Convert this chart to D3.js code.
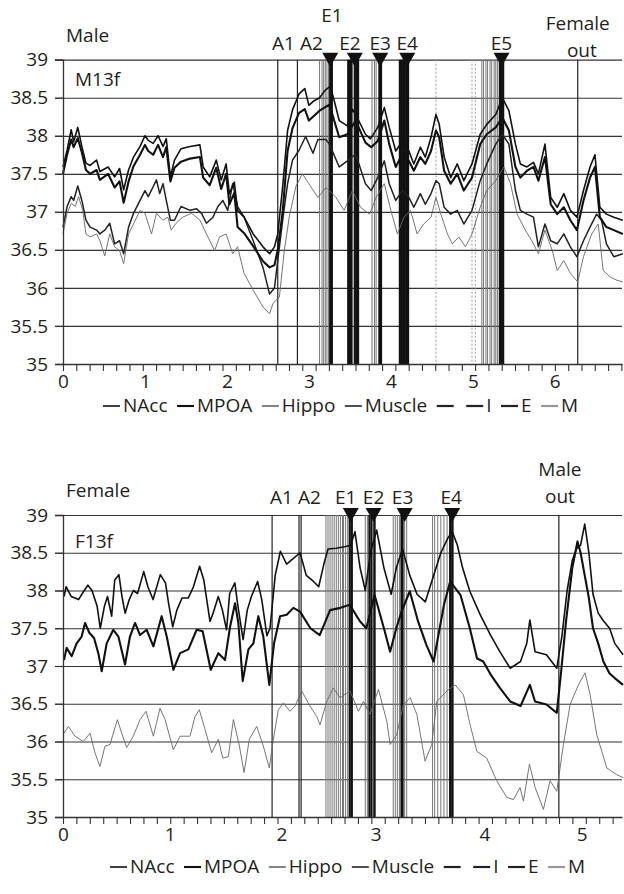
<!DOCTYPE html>
<html>
  <head>
    <meta charset="utf-8">
    <script src="https://cdn.jsdelivr.net/npm/d3@7"></script>
    <style>
      body { margin: 0; background: #fff; }
      svg text { font-family: "Open Sans", sans-serif; font-size: 19px; fill: #231f20; }
    </style>
  </head>
  <body>
    <svg id="chart" width="624" height="894"></svg>
  </body>
  <script type="text/javascript">
    // ---- male panel (M13f) ----
    var topNAcc = [[0,37.59],[0.05,37.81],[0.10,38.08],[0.13,37.92],[0.18,38.11],[0.23,37.86],[0.28,37.64],[0.33,37.61],[0.41,37.68],[0.45,37.53],[0.55,37.59],[0.63,37.46],[0.69,37.57],[0.74,37.29],[0.80,37.55],[0.86,37.72],[0.94,37.86],[1.00,38.0],[1.04,37.94],[1.10,37.9],[1.16,38.0],[1.22,37.86],[1.26,37.96],[1.31,37.46],[1.36,37.68],[1.44,37.83],[1.55,37.86],[1.67,37.88],[1.71,37.59],[1.79,37.46],[1.87,37.68],[1.93,37.42],[1.99,37.63],[2.03,37.24],[2.09,37.39],[2.13,37.02],[2.21,36.93],[2.32,36.71],[2.44,36.54],[2.52,36.45],[2.58,36.54],[2.62,36.71],[2.68,37.33],[2.74,38.07],[2.80,38.34],[2.88,38.55],[2.95,38.62],[3.0,38.4],[3.05,38.45],[3.13,38.5],[3.2,38.6],[3.26,38.65],[3.3,38.5],[3.37,38.2],[3.47,38.13],[3.53,38.35],[3.57,38.28],[3.69,38.02],[3.75,37.96],[3.84,38.11],[3.92,38.37],[3.98,38.11],[4.06,37.8],[4.14,37.93],[4.22,37.8],[4.28,37.63],[4.36,37.85],[4.42,37.72],[4.49,37.98],[4.55,38.28],[4.59,38.15],[4.65,37.72],[4.73,37.45],[4.81,37.63],[4.89,37.41],[4.99,37.63],[5.09,38.02],[5.17,38.15],[5.28,38.28],[5.36,38.5],[5.44,38.33],[5.52,37.89],[5.58,37.63],[5.66,37.59],[5.74,37.65],[5.80,37.5],[5.88,37.89],[5.95,37.19],[6.03,37.06],[6.11,37.24],[6.19,37.02],[6.27,36.93],[6.35,37.28],[6.43,37.59],[6.49,37.75],[6.55,37.06],[6.63,36.97],[6.72,36.93],[6.83,36.89]];
    var topMPOA = [[0,37.5],[0.05,37.75],[0.10,37.95],[0.13,37.85],[0.18,37.97],[0.23,37.78],[0.28,37.55],[0.33,37.5],[0.41,37.55],[0.45,37.42],[0.55,37.5],[0.63,37.32],[0.69,37.4],[0.74,37.12],[0.80,37.4],[0.86,37.6],[0.94,37.75],[1.00,37.88],[1.04,37.8],[1.10,37.75],[1.16,37.88],[1.22,37.72],[1.26,37.85],[1.31,37.4],[1.36,37.58],[1.44,37.66],[1.55,37.7],[1.67,37.72],[1.71,37.45],[1.79,37.35],[1.87,37.58],[1.93,37.3],[1.99,37.5],[2.03,37.1],[2.09,37.25],[2.13,36.8],[2.21,36.72],[2.32,36.55],[2.44,36.35],[2.52,36.27],[2.58,36.3],[2.62,36.5],[2.68,37.0],[2.74,37.8],[2.80,38.1],[2.88,38.3],[2.95,38.35],[3.0,38.2],[3.13,38.33],[3.25,38.41],[3.37,37.98],[3.47,38.02],[3.57,38.2],[3.69,37.91],[3.76,37.85],[3.84,37.93],[3.92,38.2],[3.98,37.89],[4.06,37.59],[4.14,37.76],[4.22,37.67],[4.28,37.54],[4.36,37.72],[4.42,37.63],[4.49,37.8],[4.55,38.07],[4.59,37.98],[4.65,37.54],[4.73,37.37],[4.81,37.5],[4.89,37.28],[4.99,37.45],[5.09,37.89],[5.17,38.02],[5.28,38.11],[5.36,38.24],[5.44,38.07],[5.52,37.59],[5.58,37.45],[5.66,37.54],[5.74,37.59],[5.80,37.41],[5.88,37.72],[5.95,37.1],[6.03,36.97],[6.11,37.06],[6.19,36.89],[6.27,36.76],[6.35,37.15],[6.43,37.45],[6.49,37.59],[6.55,36.93],[6.63,36.8],[6.72,36.76],[6.83,36.71]];
    var topMuscle = [[0,36.8],[0.05,37.07],[0.10,37.2],[0.13,37.15],[0.18,37.34],[0.23,37.15],[0.28,36.89],[0.33,36.8],[0.41,36.76],[0.45,36.71],[0.51,36.76],[0.57,36.85],[0.63,36.58],[0.69,36.62],[0.74,36.45],[0.80,36.8],[0.86,36.98],[0.94,37.15],[1.00,37.28],[1.04,37.2],[1.10,37.33],[1.14,37.42],[1.18,37.24],[1.22,37.37],[1.26,37.15],[1.31,36.89],[1.36,36.89],[1.44,37.07],[1.55,37.02],[1.63,37.04],[1.69,36.98],[1.75,36.85],[1.83,36.93],[1.89,37.07],[1.95,37.15],[2.01,37.02],[2.07,37.37],[2.13,37.07],[2.21,36.93],[2.32,36.62],[2.44,36.27],[2.52,35.92],[2.58,36.0],[2.62,36.36],[2.68,36.89],[2.74,37.37],[2.80,37.68],[2.88,37.81],[2.96,37.99],[3.05,37.77],[3.11,37.95],[3.21,37.95],[3.25,37.89],[3.37,37.59],[3.47,37.67],[3.57,37.76],[3.69,37.37],[3.76,37.28],[3.84,37.45],[3.92,37.67],[3.98,37.37],[4.06,37.15],[4.14,37.28],[4.22,37.19],[4.28,37.06],[4.36,37.24],[4.42,37.1],[4.49,37.24],[4.55,37.41],[4.59,37.37],[4.65,37.06],[4.73,36.97],[4.81,37.02],[4.89,36.84],[4.99,37.02],[5.09,37.41],[5.17,37.63],[5.28,37.89],[5.36,38.02],[5.44,37.89],[5.52,37.28],[5.58,37.02],[5.66,36.97],[5.74,36.93],[5.80,36.54],[5.88,36.84],[5.95,36.62],[6.03,36.58],[6.11,36.71],[6.19,36.54],[6.27,36.41],[6.35,36.62],[6.43,36.8],[6.51,36.97],[6.57,36.89],[6.63,36.58],[6.72,36.41],[6.83,36.45]];
    var topHippo = [[0,36.71],[0.05,36.98],[0.10,37.11],[0.15,37.07],[0.19,37.2],[0.24,37.02],[0.28,36.71],[0.33,36.67],[0.41,36.71],[0.45,36.62],[0.51,36.42],[0.57,36.71],[0.63,36.54],[0.69,36.49],[0.74,36.32],[0.80,36.71],[0.86,36.84],[0.94,37.02],[1.00,36.98],[1.08,36.71],[1.14,36.98],[1.22,36.89],[1.28,36.93],[1.32,36.76],[1.38,36.85],[1.46,36.93],[1.57,36.98],[1.67,36.89],[1.75,36.71],[1.85,36.49],[1.91,36.67],[1.99,36.71],[2.07,36.45],[2.13,36.54],[2.21,36.19],[2.32,35.97],[2.44,35.75],[2.52,35.66],[2.56,35.79],[2.60,35.84],[2.64,35.88],[2.70,36.49],[2.76,36.93],[2.84,37.33],[2.92,37.5],[3.0,37.37],[3.11,37.19],[3.21,37.32],[3.33,37.19],[3.43,37.02],[3.53,37.28],[3.63,37.06],[3.74,36.97],[3.82,37.19],[3.92,37.37],[4.0,37.02],[4.08,36.71],[4.16,36.93],[4.24,37.02],[4.32,36.71],[4.40,36.84],[4.49,36.93],[4.55,37.19],[4.61,36.97],[4.69,36.71],[4.75,36.58],[4.83,36.67],[4.91,36.54],[4.99,36.71],[5.09,37.06],[5.17,37.28],[5.28,37.41],[5.38,37.59],[5.46,37.37],[5.54,36.97],[5.64,36.76],[5.72,36.62],[5.80,36.45],[5.88,36.76],[5.97,36.49],[6.03,36.23],[6.11,36.36],[6.19,36.19],[6.28,36.08],[6.35,36.41],[6.45,36.71],[6.53,36.84],[6.59,36.23],[6.68,36.14],[6.76,36.1],[6.83,36.08]];

    // behaviour marks, time of each vertical line
    var topA = [2.62, 2.86, 6.28];
    var topI = [3.13, 3.16, 3.18, 3.20, 3.22, 3.24, 3.49, 3.56, 3.77, 3.80, 3.82, 5.11, 5.13, 5.16, 5.18, 5.21, 5.23, 5.26, 5.28, 5.30];
    var topE = [3.26, 3.28, 3.48, 3.50, 3.52, 3.56, 3.58, 3.60, 3.86, 3.88, 4.11, 4.13, 4.15, 4.17, 4.19, 4.21, 5.33, 5.35, 5.37];
    var topM = [4.55, 4.99, 5.03];
    var topTriangles = [3.26, 3.56, 3.87, 4.20, 5.35];
    var topTickLabels = ["0", "1", "2", "3", "4", "5", "6"];
    var topTickAt = [0, 1, 2, 3, 4, 5, 6];

    // ---- female panel (F13f) ----
    var botNAcc = [[0.01,37.92],[0.03,38.05],[0.08,37.92],[0.15,37.88],[0.2,37.99],[0.24,38.07],[0.28,38.0],[0.33,37.79],[0.36,37.5],[0.4,37.79],[0.43,37.92],[0.47,37.66],[0.5,38.14],[0.54,38.21],[0.57,37.92],[0.6,37.7],[0.64,37.88],[0.68,38.0],[0.72,37.96],[0.78,38.25],[0.82,38.05],[0.87,37.88],[0.94,38.21],[0.99,38.1],[1.02,37.83],[1.06,37.52],[1.1,37.74],[1.15,37.9],[1.21,37.9],[1.26,38.05],[1.32,38.32],[1.36,38.14],[1.42,37.59],[1.45,37.7],[1.5,37.92],[1.54,37.74],[1.58,37.48],[1.61,37.96],[1.66,38.1],[1.69,37.79],[1.74,37.35],[1.78,37.74],[1.82,37.92],[1.88,38.12],[1.92,37.88],[1.97,37.4],[2.0,37.5],[2.05,38.2],[2.1,38.52],[2.16,38.35],[2.22,38.42],[2.29,38.5],[2.35,38.2],[2.42,38.12],[2.47,38.05],[2.52,38.35],[2.56,38.55],[2.64,38.56],[2.72,38.58],[2.78,38.6],[2.82,38.78],[2.87,38.3],[2.92,38.0],[2.97,38.5],[3.03,38.8],[3.1,38.3],[3.17,37.95],[3.22,38.3],[3.28,38.55],[3.35,38.2],[3.42,37.95],[3.5,37.85],[3.58,38.2],[3.65,38.5],[3.72,38.7],[3.76,38.78],[3.81,38.6],[3.86,38.3],[3.93,37.99],[4.03,37.68],[4.13,37.41],[4.22,37.19],[4.32,36.97],[4.42,37.06],[4.48,37.3],[4.51,37.61],[4.56,37.19],[4.67,37.15],[4.77,36.97],[4.82,37.4],[4.87,38.0],[4.92,38.4],[4.96,38.55],[5.0,38.6],[5.04,38.88],[5.08,38.5],[5.12,37.95],[5.17,37.7],[5.22,37.6],[5.28,37.5],[5.33,37.3],[5.41,37.15]];
    var botMPOA = [[0.01,37.08],[0.035,37.24],[0.084,37.13],[0.132,37.3],[0.18,37.39],[0.213,37.57],[0.254,37.44],[0.3,37.37],[0.341,37.17],[0.374,36.93],[0.422,37.3],[0.486,37.48],[0.535,37.39],[0.599,37.02],[0.647,37.39],[0.696,37.57],[0.744,37.41],[0.808,37.48],[0.873,37.26],[0.953,37.66],[1.002,37.39],[1.066,36.95],[1.131,37.17],[1.211,37.22],[1.291,37.48],[1.349,37.46],[1.427,36.95],[1.501,37.17],[1.565,37.08],[1.614,37.52],[1.662,37.83],[1.694,37.57],[1.736,36.8],[1.791,37.22],[1.839,37.3],[1.887,37.66],[1.935,37.39],[1.993,36.75],[2.039,37.3],[2.097,37.66],[2.161,37.68],[2.225,37.77],[2.29,37.72],[2.39,37.5],[2.48,37.41],[2.58,37.74],[2.68,37.77],[2.77,37.81],[2.87,37.59],[2.93,37.5],[3.01,37.94],[3.1,37.5],[3.16,37.19],[3.22,37.5],[3.27,37.72],[3.35,37.99],[3.43,37.59],[3.51,37.28],[3.58,37.06],[3.68,37.81],[3.74,38.12],[3.84,37.94],[3.93,37.5],[4.0,37.1],[4.06,37.06],[4.13,36.89],[4.22,36.71],[4.32,36.53],[4.42,36.47],[4.51,36.75],[4.56,36.53],[4.67,36.49],[4.77,36.38],[4.81,36.9],[4.86,37.6],[4.92,38.3],[4.97,38.65],[5.0,38.5],[5.04,38.2],[5.08,37.9],[5.12,37.5],[5.17,37.3],[5.22,37.06],[5.28,36.9],[5.33,36.84],[5.41,36.75]];
    var botHippo = [[0.01,36.11],[0.052,36.2],[0.116,36.07],[0.196,36.0],[0.261,36.11],[0.309,35.85],[0.357,35.67],[0.406,35.94],[0.454,35.96],[0.525,36.29],[0.567,36.11],[0.615,35.92],[0.679,36.07],[0.744,36.29],[0.802,36.4],[0.873,36.07],[0.937,36.44],[0.986,36.29],[1.066,35.89],[1.131,36.07],[1.227,36.07],[1.275,36.33],[1.317,36.42],[1.372,36.16],[1.436,35.85],[1.501,36.03],[1.543,35.78],[1.597,35.8],[1.646,36.29],[1.704,35.94],[1.749,35.59],[1.8,36.03],[1.871,36.2],[1.935,35.94],[1.993,35.65],[2.032,36.03],[2.08,36.42],[2.129,36.51],[2.193,36.4],[2.242,36.47],[2.306,36.67],[2.386,36.47],[2.451,36.33],[2.483,36.22],[2.548,36.53],[2.612,36.71],[2.676,36.58],[2.773,36.67],[2.854,36.4],[2.902,36.53],[2.966,36.36],[3.047,36.69],[3.128,36.27],[3.16,35.96],[3.224,36.09],[3.289,36.49],[3.353,36.58],[3.418,36.36],[3.498,35.74],[3.562,35.96],[3.611,36.53],[3.708,36.67],[3.788,36.75],[3.868,36.62],[3.933,36.22],[3.998,35.87],[4.093,35.78],[4.19,35.48],[4.287,35.26],[4.351,35.23],[4.415,35.39],[4.448,35.21],[4.506,35.7],[4.561,35.39],[4.641,35.1],[4.705,35.48],[4.77,35.34],[4.834,35.96],[4.899,36.49],[4.979,36.75],[5.043,36.91],[5.092,36.62],[5.156,36.09],[5.253,35.65],[5.349,35.56],[5.414,35.52]];

    var botA = [2.02, 2.28, 2.30, 4.79];
    var botI = [2.54, 2.56, 2.58, 2.60, 2.62, 2.64, 2.66, 2.68, 2.70, 2.71, 2.73, 2.75, 2.92, 2.94, 3.00, 3.19, 3.21, 3.23, 3.25, 3.30, 3.32, 3.57, 3.59, 3.62, 3.65, 3.68, 3.71, 3.77];
    var botE = [2.77, 2.79, 2.96, 2.98, 3.01, 3.27, 3.28, 3.74, 3.76];
    var botM = [];
    var botTriangles = [2.78, 3.00, 3.30, 3.76];
    var botTickLabels = ["0", "1", "2", "3", "4", "5"];
    var botTickAt = [0, 1.03, 2.11, 3.02, 4.07, 5.01];

    var yTicks = [35, 35.5, 36, 36.5, 37, 37.5, 38, 38.5, 39];
    var legendNames = ["NAcc", "MPOA", "Hippo", "Muscle", "", "I", "E", "M"];

    var styles = {
      NAcc:   { stroke: "#111", width: 1.6 },
      MPOA:   { stroke: "#111", width: 2.1 },
      Hippo:  { stroke: "#666", width: 0.9 },
      Muscle: { stroke: "#222", width: 1.5 },
      A:      { stroke: "#222", width: 1.2 },
      I:      { stroke: "#777", width: 1 },
      E:      { stroke: "#111", width: 2.2 },
      M:      { stroke: "#999", width: 1, dash: "2,2" }
    };

    var svg = d3.select("#chart");
    var left = 63, right = 622;

    function drawPanel(p) {
      var x = d3.scaleLinear().domain([0, p.xMax]).range([left, right]);
      var y = d3.scaleLinear().domain([35, 39]).range([p.bottom, p.top]);
      var g = svg.append("g");

      // horizontal grid
      g.append("g")
        .attr("transform", "translate(" + (left - 8) + ",0)")
        .call(d3.axisLeft(y).tickValues(yTicks.slice(1)).tickSize(-(right - left + 8)).tickFormat(""))
        .call(function(s) { s.select(".domain").remove(); })
        .selectAll("line").attr("stroke", "#333").attr("stroke-width", 1.2);

      // vertical behaviour lines
      [["A", p.A], ["I", p.I], ["M", p.M], ["E", p.E]].forEach(function(ev) {
        var st = styles[ev[0]];
        g.append("g").selectAll("line")
          .data(ev[1])
          .enter().append("line")
          .attr("x1", function(d) { return x(d); })
          .attr("x2", function(d) { return x(d); })
          .attr("y1", y(39))
          .attr("y2", y(35))
          .attr("stroke", st.stroke)
          .attr("stroke-width", st.width)
          .attr("stroke-dasharray", st.dash || null);
      });

      // temperature traces
      var line = d3.line()
        .x(function(d) { return x(d[0]); })
        .y(function(d) { return y(d[1]); });
      p.series.forEach(function(s) {
        var st = styles[s.name];
        g.append("path")
          .datum(s.data)
          .attr("d", line)
          .attr("fill", "none")
          .attr("stroke", st.stroke)
          .attr("stroke-width", st.width)
          .attr("stroke-linejoin", "round");
      });

      // y axis
      var ya = g.append("g")
        .attr("transform", "translate(" + left + ",0)")
        .call(d3.axisLeft(y).tickValues(yTicks).tickSize(8).tickPadding(7).tickFormat(d3.format("")));
      ya.select(".domain").attr("stroke", "#333").attr("stroke-width", 1.3);
      ya.selectAll("line").attr("stroke", "#333").attr("stroke-width", 1.2);
      ya.selectAll("text").style("font-size", "19px").style("font-family", "Open Sans").attr("fill", "#231f20");

      // x axis: minor ticks then labels
      var xa = g.append("g")
        .attr("transform", "translate(0," + p.bottom + ")")
        .call(d3.axisBottom(x).tickValues(d3.range(0, p.xMax, p.minorStep)).tickSize(7).tickSizeOuter(0).tickFormat(""));
      xa.select(".domain").attr("stroke", "#333").attr("stroke-width", 1.3);
      xa.selectAll("line").attr("stroke", "#333").attr("stroke-width", 1.1);
      var xl = g.append("g")
        .attr("transform", "translate(0," + p.bottom + ")")
        .call(d3.axisBottom(x).tickValues(p.tickAt).tickSize(0).tickPadding(11)
          .tickFormat(function(d, i) { return p.tickLabels[i]; }));
      xl.select(".domain").remove();
      xl.selectAll("text").style("font-size", "19px").style("font-family", "Open Sans").attr("fill", "#231f20");

      // ejaculation triangles
      g.selectAll(".tri")
        .data(p.triangles)
        .enter().append("path")
        .attr("d", function(d) {
          var cx = x(d);
          return "M" + (cx - 8) + "," + (p.top - 7) + "L" + (cx + 8) + "," + (p.top - 7) + "L" + cx + "," + (p.top + 7) + "Z";
        })
        .attr("fill", "#111");

      // annotations
      p.notes.forEach(function(n) {
        g.append("text")
          .attr("x", n.t === undefined ? n.px : x(n.t))
          .attr("y", n.y)
          .attr("text-anchor", n.anchor || "middle")
          .text(n.text);
      });

      // legend
      var lg = g.append("g").attr("transform", "translate(" + p.legendX + "," + p.legendY + ")");
      var cursor = 0;
      legendNames.forEach(function(name, i) {
        var st = i < 4 ? styles[name] : null;
        lg.append("line")
          .attr("x1", cursor).attr("x2", cursor + 17)
          .attr("y1", -6).attr("y2", -6)
          .attr("stroke", st ? st.stroke : (name === "M" ? "#999" : "#222"))
          .attr("stroke-width", st ? Math.max(st.width, 1.6) : 2.2);
        cursor += 20;
        var t = lg.append("text").attr("x", cursor).attr("y", 0).text(name);
        cursor += t.node().getComputedTextLength() + 9.5;
      });
    }

    drawPanel({
      top: 59.7, bottom: 364, xMax: 6.82, minorStep: 0.1622,
      series: [
        { name: "Hippo", data: topHippo },
        { name: "Muscle", data: topMuscle },
        { name: "MPOA", data: topMPOA },
        { name: "NAcc", data: topNAcc }
      ],
      A: topA, I: topI, E: topE, M: topM,
      triangles: topTriangles, tickAt: topTickAt, tickLabels: topTickLabels,
      legendX: 103, legendY: 412,
      notes: [
        { text: "Male", px: 66, y: 42, anchor: "start" },
        { text: "M13f", px: 75, y: 86, anchor: "start" },
        { text: "E1", t: 3.28, y: 22 },
        { text: "A1", t: 2.69, y: 50 },
        { text: "A2", t: 3.03, y: 50 },
        { text: "E2", t: 3.50, y: 50 },
        { text: "E3", t: 3.87, y: 50 },
        { text: "E4", t: 4.20, y: 50 },
        { text: "E5", t: 5.35, y: 50 },
        { text: "Female", t: 6.28, y: 30 },
        { text: "out", t: 6.33, y: 57 }
      ]
    });

    drawPanel({
      top: 515, bottom: 817, xMax: 5.4, minorStep: 0.1295,
      series: [
        { name: "Hippo", data: botHippo },
        { name: "MPOA", data: botMPOA },
        { name: "NAcc", data: botNAcc }
      ],
      A: botA, I: botI, E: botE, M: botM,
      triangles: botTriangles, tickAt: botTickAt, tickLabels: botTickLabels,
      legendX: 110, legendY: 873,
      notes: [
        { text: "Female", px: 66, y: 497, anchor: "start" },
        { text: "F13f", px: 75, y: 548, anchor: "start" },
        { text: "A1", t: 2.11, y: 504 },
        { text: "A2", t: 2.38, y: 504 },
        { text: "E1", t: 2.73, y: 504 },
        { text: "E2", t: 3.0, y: 504 },
        { text: "E3", t: 3.28, y: 504 },
        { text: "E4", t: 3.75, y: 504 },
        { text: "Male", t: 4.8, y: 476 },
        { text: "out", t: 4.8, y: 503 }
      ]
    });
  </script>
</html>
